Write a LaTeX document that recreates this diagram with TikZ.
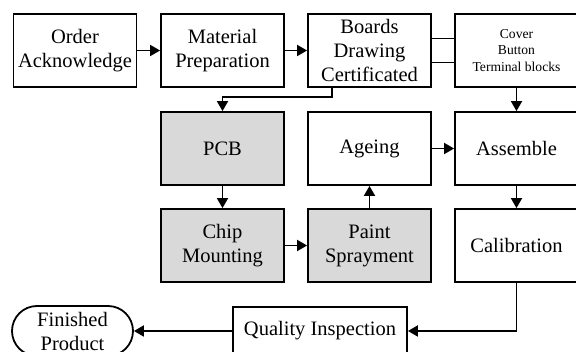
\documentclass[tikz,border=0pt]{standalone}
\usepackage{fontspec}
\setmainfont{Liberation Serif}
\usepackage{tikz}
\usetikzlibrary{arrows.meta}
\usetikzlibrary{shapes.misc}
\usepackage{xcolor}
\definecolor{stepgray}{HTML}{D9D9D9}

\tikzset{
    box/.style={draw, line width=1.8pt, minimum width=123pt, minimum height=73pt,
        inner sep=1pt, align=center, font=\fontsize{20.5}{24}\selectfont},
    small/.style={font=\fontsize{13.6}{16.7}\selectfont},
    arr/.style={line width=1.8pt, -{Triangle[length=10pt,width=11pt]}},
    line/.style={line width=1.8pt}
}

\begin{document}
\begin{tikzpicture}[x=1pt, y=-1pt]
    % Frame of the picture
    \useasboundingbox (0,0) rectangle (576,352);
    \clip (0,0) rectangle (576,352);

    % First row
    \node[box] (Order) at (75,50.5) {Order\\Acknowledge};
    \node[box] (Material) at (222.5,50.5) {Material\\Preparation};
    \node[box] (Boards) at (369.5,50.5) {Boards\\Drawing\\Certificated};
    \node[box, small] (Cover) at (516.5,50.5) {Cover\\Button\\Terminal blocks};

    % Second row
    \node[box, fill=stepgray] (PCB) at (222.5,148.5) {PCB};
    \node[box] (Ageing) at (369.5,148.5) {Ageing};
    \node[box] (Assemble) at (516.5,148.5) {Assemble};

    % Third row
    \node[box, fill=stepgray] (Chip) at (222.5,245.5) {Chip\\Mounting};
    \node[box, fill=stepgray] (Paint) at (369.5,245.5) {Paint\\Sprayment};
    \node[box] (Calib) at (516.5,245.5) {Calibration};

    % Last row
    \node[box, minimum width=174pt, minimum height=48pt] (Quality) at (320,331) {Quality Inspection};
    \node[box, rounded rectangle, minimum width=123pt, minimum height=50pt] (Finished) at (72.5,331) {Finished\\Product};

    % Straight arrows
    \foreach \a/\b in {Order/Material, Material/Boards, Ageing/Assemble, Chip/Paint,
                       PCB/Chip, Cover/Assemble, Assemble/Calib, Paint/Ageing}
        \draw[arr] (\a) -- (\b);

    % Links to the parts box
    \draw[line] ([yshift=12pt]Boards.east) -- ([yshift=12pt]Cover.west);
    \draw[line] ([yshift=-12pt]Boards.east) -- ([yshift=-12pt]Cover.west);

    % Bent arrows
    \draw[arr] ([xshift=-37.5pt]Boards.south) -- ++(0,9) -| (PCB.north);
    \draw[arr] (Calib.south) |- (Quality.east);
    \draw[arr] (Quality.west) -- (Finished.east);
\end{tikzpicture}
\end{document}
